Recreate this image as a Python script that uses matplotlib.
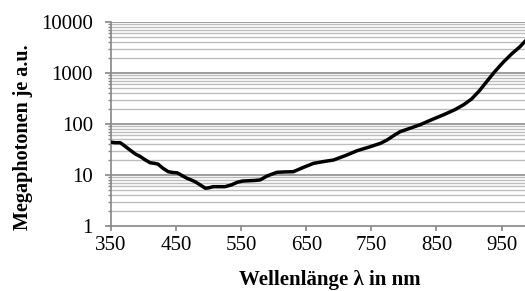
import matplotlib
matplotlib.use("Agg")
import matplotlib.pyplot as plt
from matplotlib.ticker import LogLocator, FixedLocator, NullFormatter
import numpy as np

wavelength = [350, 356, 364, 370, 379, 387, 395, 402, 410, 416, 422, 430, 438, 445, 452,
              460, 467, 473, 479, 487, 495, 500, 507, 515, 525, 535, 544, 552, 560, 570,
              579, 590, 605, 618, 630, 645, 661, 676, 692, 710, 728, 748, 764, 774, 785,
              794, 810, 825, 843, 861, 878, 892, 904, 916, 928, 940, 953, 966, 978, 987, 1000]
photons = [44, 43, 43, 38, 31, 26, 23, 20, 17.4, 17.0, 16.4, 13.5, 11.6, 11.2, 11.0,
           9.6, 8.6, 8.0, 7.4, 6.4, 5.5, 5.6, 5.9, 5.9, 5.9, 6.4, 7.2, 7.6, 7.7, 7.8,
           8.0, 9.6, 11.3, 11.5, 11.6, 14.0, 16.9, 18.3, 19.7, 24.0, 29.9, 35.8, 41.8, 48.5, 60.0,
           70.5, 83.0, 97, 122, 152, 190, 240, 310, 450, 700, 1080, 1650, 2400, 3250, 4300, 6200]

x_ticks = [350, 450, 550, 650, 750, 850, 950]
y_ticks = [1, 10, 100, 1000, 10000]
y_tick_labels = ["1", "10", "100", "1000", "10000"]

plt.rcParams['font.family'] = ['Liberation Serif', 'DejaVu Serif']

fig = plt.figure(figsize=(5.25, 2.91), dpi=100)
ax = fig.add_axes([111/525, 1 - 226/291, 1 - 111/525, (226 - 22)/291])

ax.set_yscale('log')
ax.set_xlim(350, 986)
ax.set_ylim(1, 10000)

ax.set_xticks(x_ticks)
ax.set_xticklabels([str(t) for t in x_ticks])
ax.yaxis.set_major_locator(FixedLocator(y_ticks))
ax.set_yticklabels(y_tick_labels)
ax.yaxis.set_minor_locator(LogLocator(base=10, subs=np.arange(2, 10), numticks=20))
ax.yaxis.set_minor_formatter(NullFormatter())

for s in ['top', 'right']:
    ax.spines[s].set_visible(False)
for s in ['left', 'bottom']:
    ax.spines[s].set_color('#868686')
    ax.spines[s].set_linewidth(1.2)

ax.tick_params(axis='x', which='major', direction='out', length=3.5, width=1.2, color='#868686',
               labelsize=15, pad=4)
ax.tick_params(axis='y', which='major', direction='out', length=4, width=1.2, color='#868686',
               labelsize=15, pad=9)
ax.tick_params(axis='y', which='minor', direction='out', length=2.5, width=1.0, color='#868686')

# horizontal gridlines drawn explicitly from the tick values
minor_vals = [m * 10 ** e for e in range(0, 4) for m in range(2, 10)]
for v in minor_vals:
    ax.axhline(v, color='#bdbdbd', lw=1.0, zorder=1)
for v in y_ticks[1:]:
    ax.axhline(v, color='#8c8c8c', lw=1.2, zorder=1.5)

ax.plot(wavelength, photons, color='black', lw=2.5, solid_capstyle='round',
        solid_joinstyle='round', zorder=3)

fig.text(330/525, 1 - 280/291, "Wellenlänge λ in nm", ha='center', va='center',
         fontsize=15, fontweight='bold')
fig.text(23/525, 1 - 137/291, "Megaphotonen je a.u.", ha='center', va='center',
         rotation=90, fontsize=14.5, fontweight='bold')

fig.savefig("out.png", dpi=100)
